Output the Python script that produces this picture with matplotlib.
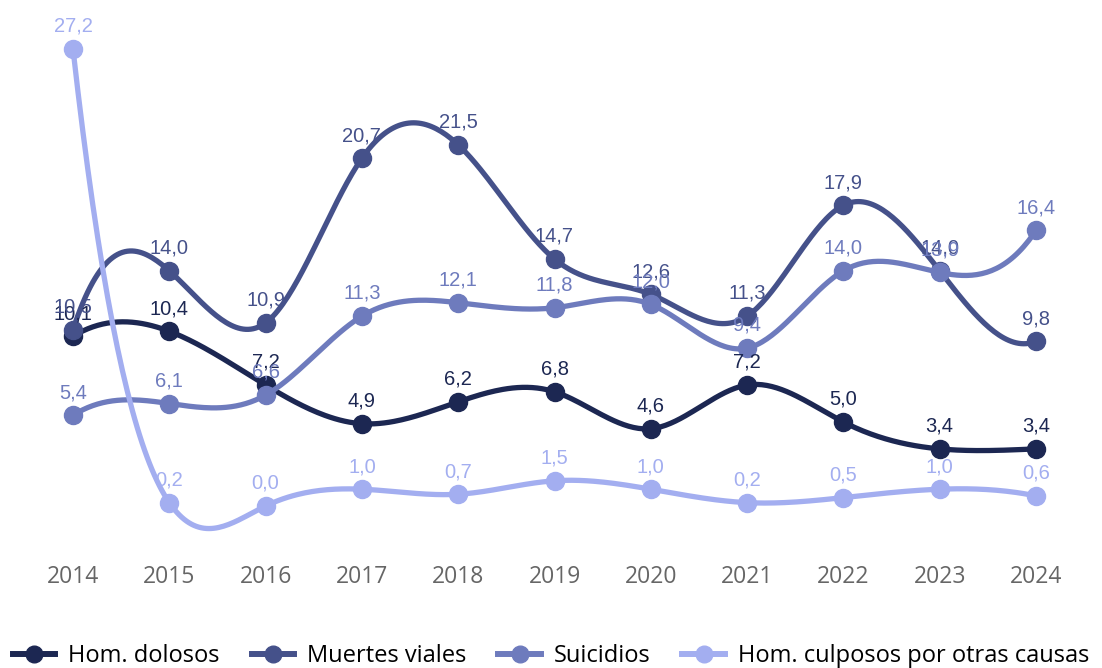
import numpy as np
import matplotlib
matplotlib.use("Agg")
import matplotlib.pyplot as plt
from matplotlib.lines import Line2D

years = ["2014", "2015", "2016", "2017", "2018", "2019", "2020", "2021", "2022", "2023", "2024"]
hom_dolosos = [10.1, 10.4, 7.2, 4.9, 6.2, 6.8, 4.6, 7.2, 5.0, 3.4, 3.4]
muertes_viales = [10.5, 14.0, 10.9, 20.7, 21.5, 14.7, 12.6, 11.3, 17.9, 14.0, 9.8]
suicidios = [5.4, 6.1, 6.6, 11.3, 12.1, 11.8, 12.0, 9.4, 14.0, 13.9, 16.4]
hom_culposos = [27.2, 0.2, 0.0, 1.0, 0.7, 1.5, 1.0, 0.2, 0.5, 1.0, 0.6]

names = ["Hom. dolosos", "Muertes viales", "Suicidios", "Hom. culposos por otras causas"]
colors = ["#1c2752", "#45518a", "#6e7bbd", "#a3aef0"]


def spline(y, n=40):
    # cubic spline, not-a-knot ends, evenly spaced x (step 1)
    y = np.asarray(y, float)
    k = len(y)
    A = np.zeros((k, k))
    b = np.zeros(k)
    A[0, 0:3] = [1, -2, 1]
    A[-1, -3:] = [1, -2, 1]
    for i in range(1, k - 1):
        A[i, i - 1:i + 2] = [1, 4, 1]
        b[i] = 6 * (y[i + 1] - 2 * y[i] + y[i - 1])
    M = np.linalg.solve(A, b)
    t = np.linspace(0, 1, n)
    xs, ys = [], []
    for i in range(k - 1):
        s = 1 - t
        ys.append(s * y[i] + t * y[i + 1] + (s ** 3 - s) * M[i] / 6 + (t ** 3 - t) * M[i + 1] / 6)
        xs.append(i + t)
    return np.concatenate(xs), np.concatenate(ys)


fig = plt.figure(figsize=(11.02, 6.68), dpi=100)
ax = fig.add_axes([73 / 1102, 128.4 / 668, 963 / 1102, 504 / 668])
ax.set_xlim(0, 10)
ax.set_ylim(-2, 28)

x = np.arange(len(years))
series = [hom_dolosos, muertes_viales, suicidios, hom_culposos]
for i, (vals, c) in enumerate(zip(series, colors)):
    sx, sy = spline(vals)
    ax.plot(sx, sy, color=c, lw=3.8, solid_capstyle="round", clip_on=False, zorder=2 + i)
    ax.plot(x, vals, "o", color=c, ms=13, clip_on=False, zorder=2 + i)
    for xi, v in zip(x, vals):
        ax.annotate(f"{v:.1f}".replace(".", ","), (xi, v), xytext=(0, 9.5),
                    textcoords="offset points", ha="center", va="bottom",
                    fontsize=14.5, color=c, family="Liberation Sans",
                    zorder=10 + i, annotation_clip=False)

for s in ax.spines.values():
    s.set_visible(False)
ax.set_yticks([])
ax.set_xticks(x)
ax.set_xticklabels(years, family="Open Sans", fontsize=16.5, color="#666666")
ax.tick_params(axis="x", length=0, pad=18)

handles = [Line2D([0], [0], color=c, lw=4.3, marker="o", ms=12) for c in colors]
fig.legend(handles, names, loc="center", bbox_to_anchor=(0.5, 12 / 668), ncol=4,
           frameon=False, prop={"family": "Open Sans", "size": 17},
           handlelength=1.8, handletextpad=0.55, columnspacing=1.35)

fig.savefig("out.png", dpi=100)
